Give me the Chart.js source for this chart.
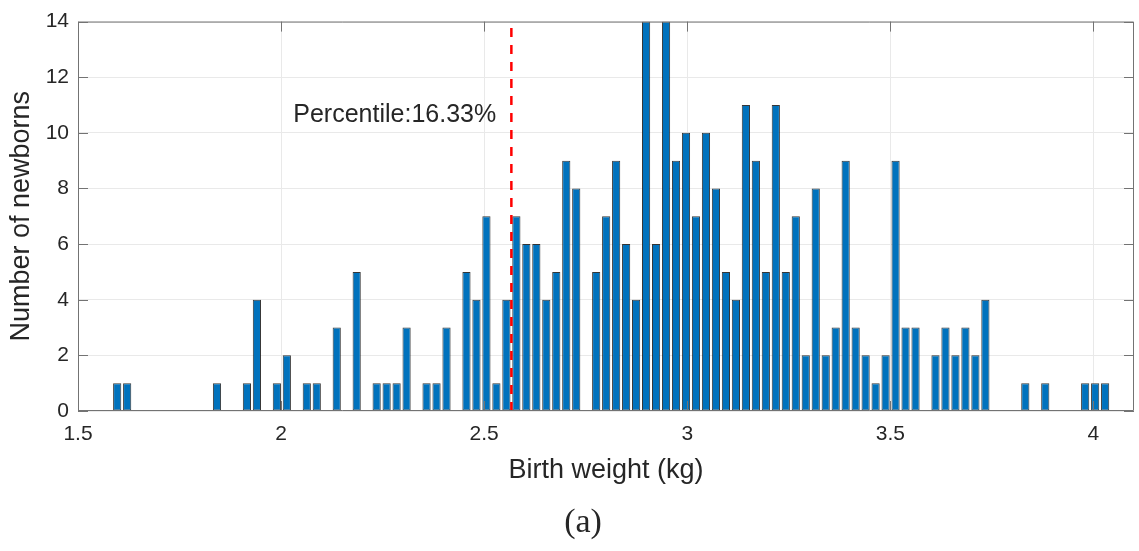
<!DOCTYPE html>
<html>
<head>
<meta charset="utf-8">
<script src="https://cdn.jsdelivr.net/npm/chart.js"></script>
<style>
  html, body { margin: 0; padding: 0; background: #ffffff; }
  #wrap { width: 1139px; height: 551px; }
</style>
</head>
<body>
<div id="wrap"><canvas id="weight-hist" width="1139" height="551"></canvas></div>
<script>
// 出生体重ヒストグラム（100ビン）
const binStart = 1.5965;   // 最初のビン中心 (kg)
const binWidth = 0.02457;  // ビン幅 (kg)
const newbornCounts = [
  1, 1, 0, 0, 0, 0, 0, 0, 0, 0,
  1, 0, 0, 1, 4, 0, 1, 2, 0, 1,
  1, 0, 3, 0, 5, 0, 1, 1, 1, 3,
  0, 1, 1, 3, 0, 5, 4, 7, 1, 4,
  7, 6, 6, 4, 5, 9, 8, 0, 5, 7,
  9, 6, 4, 14, 6, 14, 9, 10, 7, 10,
  8, 5, 4, 11, 9, 5, 11, 5, 7, 2,
  8, 2, 3, 9, 3, 2, 1, 2, 9, 3,
  3, 0, 2, 3, 2, 3, 2, 4, 0, 0,
  0, 1, 0, 1, 0, 0, 0, 1, 1, 1,
];
const binCenters = newbornCounts.map((_, i) => binStart + i * binWidth);

const xTickValues = [1.5, 2, 2.5, 3, 3.5, 4];
const yTickValues = [0, 2, 4, 6, 8, 10, 12, 14];

// パーセンタイル位置と注記
const percentileWeight = 2.567;
const percentileText = 'Percentile:16.33%';
const percentileTextPos = { x: 2.03, y: 10.63 };
const captionText = '(a)';

const textColor = '#262626';
const frameColor = '#737373';
const gridColor = '#e9e9e9';
const sansFont = "'Liberation Sans', Arial, Helvetica, sans-serif";

Chart.defaults.font.family = sansFont;
Chart.defaults.color = textColor;

// 枠線と内向きの目盛り
const frameLines = {
  id: 'frameLines',
  afterDatasetsDraw(chart) {
    const { ctx, chartArea: { left, right, top, bottom }, scales: { x, y } } = chart;
    const tickLen = 10;
    ctx.save();
    ctx.strokeStyle = frameColor;
    ctx.lineWidth = 1;
    ctx.beginPath();
    ctx.rect(left + 0.5, top + 0.5, right - left - 1, bottom - top - 1);
    xTickValues.forEach(v => {
      const px = Math.round(x.getPixelForValue(v)) + 0.5;
      ctx.moveTo(px, bottom);
      ctx.lineTo(px, bottom - tickLen);
      ctx.moveTo(px, top);
      ctx.lineTo(px, top + tickLen);
    });
    yTickValues.forEach(v => {
      const py = Math.round(y.getPixelForValue(v)) + 0.5;
      ctx.moveTo(left, py);
      ctx.lineTo(left + tickLen, py);
      ctx.moveTo(right, py);
      ctx.lineTo(right - tickLen, py);
    });
    ctx.stroke();
    ctx.restore();
  },
  afterDraw(chart) {
    const { ctx, scales: { x, y } } = chart;
    ctx.save();
    ctx.fillStyle = textColor;
    ctx.font = `25px ${sansFont}`;
    ctx.textAlign = 'left';
    ctx.textBaseline = 'middle';
    ctx.fillText(percentileText, x.getPixelForValue(percentileTextPos.x), y.getPixelForValue(percentileTextPos.y));
    ctx.font = "34px 'Liberation Serif', 'DejaVu Serif', serif";
    ctx.textAlign = 'center';
    ctx.fillText(captionText, 583, 523);
    ctx.restore();
  },
};

new Chart(document.getElementById('weight-hist'), {
  type: 'bar',
  data: {
    datasets: [
      {
        type: 'line',
        label: 'percentile',
        data: [
          { x: percentileWeight, y: 0 },
          { x: percentileWeight, y: 14 },
        ],
        borderColor: '#ff0000',
        borderWidth: 2.5,
        borderDash: [9, 8],
        pointRadius: 0,
        fill: false,
        order: 0,
      },
      {
        label: 'Number of newborns',
        data: binCenters.map((c, i) => ({ x: c, y: newbornCounts[i] })),
        backgroundColor: '#0072BD',
        borderColor: 'rgba(20, 20, 20, 0.85)',
        borderWidth: 1,
        borderSkipped: false,
        barPercentage: 0.82,
        categoryPercentage: 1.0,
        order: 1,
      },
    ],
  },
  plugins: [frameLines],
  options: {
    responsive: false,
    animation: false,
    layout: { padding: { left: 0, top: 16, right: 5, bottom: 0 } },
    plugins: {
      legend: { display: false },
      tooltip: { enabled: false },
    },
    scales: {
      x: {
        type: 'linear',
        min: 1.5,
        max: 4.1,
        offset: false,
        afterBuildTicks: s => { s.ticks = xTickValues.map(v => ({ value: v })); },
        afterFit: s => { s.height = 140; },
        grid: { color: gridColor, drawTicks: false, offset: false },
        border: { display: false },
        ticks: { font: { size: 21 }, color: textColor, padding: 11, maxRotation: 0, callback: v => String(v) },
        title: {
          display: true,
          text: 'Birth weight (kg)',
          font: { size: 27 },
          color: textColor,
          padding: { top: 0, bottom: 64 },
        },
      },
      y: {
        min: 0,
        max: 14,
        afterBuildTicks: s => { s.ticks = yTickValues.map(v => ({ value: v })); },
        afterFit: s => { s.width = 78; },
        grid: { color: gridColor, drawTicks: false },
        border: { display: false },
        ticks: { font: { size: 21 }, color: textColor, padding: 9, callback: v => String(v) },
        title: {
          display: true,
          text: 'Number of newborns',
          font: { size: 27 },
          color: textColor,
          padding: { top: 5, bottom: 0 },
        },
      },
    },
  },
});
</script>
</body>
</html>
